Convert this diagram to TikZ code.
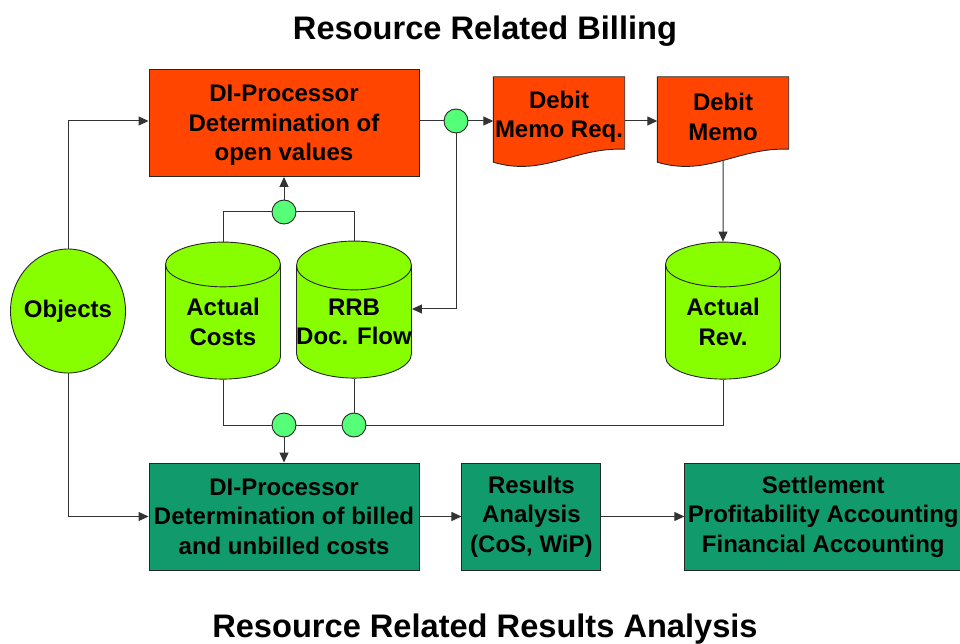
\documentclass[tikz,border=0pt]{standalone}
\usepackage{fontspec}
\setmainfont{Liberation Sans}
\usepackage{xcolor}
\usetikzlibrary{positioning,arrows.meta,shapes.geometric,calc,backgrounds}

\definecolor{billred}{HTML}{FF4500}
\definecolor{dbgreen}{HTML}{88FF00}
\definecolor{joingreen}{HTML}{55FF77}
\definecolor{rateal}{HTML}{119A6B}

\newcommand{\docshape}[2]{%
  \fill[#2, draw=black!85, line width=0.9pt]
    (#1.north west) -- (#1.north east) -- ([yshift=8pt]#1.south east)
    .. controls +(-51,-2) and +(50,15) .. ([yshift=-5pt]#1.south west) -- cycle;}

\begin{document}
\begin{tikzpicture}[
  x=1pt, y=-1pt,
  >={Triangle[length=10pt,width=9pt]},
  txt/.style={font=\bfseries\fontsize{24}{29.5}\selectfont, align=center, inner sep=0pt},
  proc/.style={txt, draw=black!85, line width=0.9pt, fill=billred, minimum width=270pt, minimum height=107pt},
  res/.style={txt, draw=black!85, line width=0.9pt, fill=rateal, minimum height=107pt},
  docnode/.style={txt, minimum width=131pt, minimum height=80pt},
  cyl/.style={txt, cylinder, shape border rotate=90, aspect=0.61, draw=black!85, line width=0.9pt, fill=dbgreen, minimum width=115pt, minimum height=137pt},
  junc/.style={circle, draw=black!85, line width=0.9pt, fill=joingreen, minimum size=24pt, inner sep=0pt},
  conn/.style={draw=black!80, line width=1pt},
  arr/.style={conn, ->},
  title/.style={font=\bfseries\fontsize{32.6}{39}\selectfont},
]
\useasboundingbox (0,0) rectangle (960,644);

% Titles
\node[title] (t1) at (485,31) {Resource Related Billing};
\node[title] (t2) at (485,629) {Resource Related Results Analysis};

% Billing side
\node[proc] (dip) at (284,123) {DI-Processor\\Determination of\\\smash{open values}};
\node[docnode] (dmr) at (559,117) {Debit\\Memo Req.};
\node[docnode] (dm) at (723,117) {Debit\\Memo};
\begin{scope}[on background layer]
  \docshape{dmr}{billred}
  \docshape{dm}{billred}
\end{scope}

% Databases
\node[cyl] (ac) at (223,322) {Actual\\Costs};
\node[cyl] (rrb) at (354,322) {RRB\\\makebox[80pt]{Doc. Flow}};
\node[cyl] (rev) at (723,322) {Actual\\Rev.};

% Objects
\node[txt, ellipse, inner xsep=-4pt, draw=black!85, line width=0.9pt, fill=dbgreen, minimum width=115pt, minimum height=124pt] (obj) at (68,311) {Objects};

% Results analysis side
\node[res, minimum width=270pt] (dib) at (284,516.5) {DI-Processor\\Determination of billed\\and unbilled costs};
\node[res, minimum width=139pt, right=42pt of dib] (ra) {Results\\Analysis\\(CoS, WiP)};
\node[res, minimum width=277pt, right=83pt of ra] (sa) {Settlement\\Profitability Accounting\\Financial Accounting};

% Junctions
\node[junc] (j1) at (284,212) {};
\node[junc] (j2) at (456,121) {};
\node[junc] (j3) at (284,425) {};
\node[junc] (j4) at (354,425) {};

% Connectors
\draw[arr] (obj.north) |- (j2 -| dip.west);
\draw[arr] (obj.south) |- (dib.west);
\draw[conn] (ac.north) |- (j1);
\draw[conn] (rrb.north) |- (j1);
\draw[arr] (j1) -- (dip.south);
\draw[conn] (dip.east |- j2) -- (j2);
\draw[arr] (j2) -- (j2 -| dmr.west);
\draw[arr] (j2) |- ([yshift=13pt]rrb.east);
\draw[arr] (dmr.east |- j2) -- (dm.west |- j2);
\draw[arr] ([yshift=-3pt]dm.south) -- (rev.north);
\draw[conn] (ac.south) |- (j3);
\draw[conn] (j3) -- (j4);
\draw[conn] (rrb.south) -- (j4);
\draw[conn] (j4) -| (rev.south);
\draw[arr] (j3) -- (dib.north);
\draw[arr] (dib) -- (ra);
\draw[arr] (ra) -- (sa);

\end{tikzpicture}
\end{document}
